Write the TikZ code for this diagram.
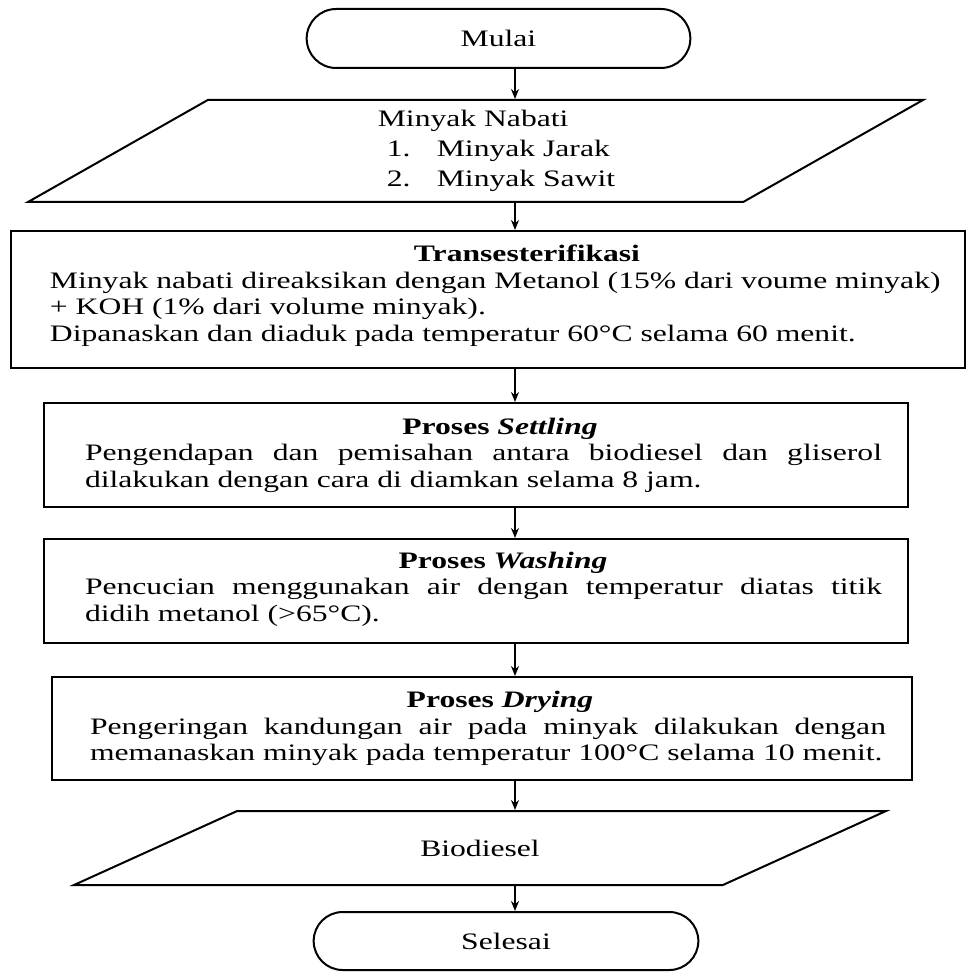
\documentclass[tikz,border=0pt]{standalone}
\usepackage{fontspec}
\setmainfont[FakeStretch=1.34]{Liberation Serif}
\usepackage{tikz}
\usetikzlibrary{arrows.meta, positioning, shapes.geometric, shapes.misc}

\begin{document}
\begin{tikzpicture}[>={Stealth[length=5pt, width=4pt]}, x=0.5pt, y=-0.5pt,
    every node/.style={font=\fontsize{11.8}{13.25}\selectfont},
    terminal/.style={draw, line width=1pt, rounded rectangle, minimum height=29.5pt},
    datain/.style={draw, line width=1pt, trapezium, trapezium stretches body=true},
    procbox/.style={draw, line width=1pt, rectangle, inner xsep=13pt},
    flow/.style={->, line width=0.75pt}]
  \useasboundingbox (0,0) rectangle (967,972);
  \coordinate (ax) at (515,0);

  % start and input
  \node[terminal, minimum width=198.5pt] (mulai) at (498.5,38.5) {Mulai};
  \node[datain, trapezium left angle=27.8, trapezium right angle=152.2,
        minimum width=447.5pt, minimum height=51pt, align=left,
        font=\fontsize{11.8}{15}\selectfont] (nabati) at (475.5,151)
    {\hspace*{21pt}Minyak Nabati\\
     \hspace*{25.5pt}\makebox[25pt][l]{1.}Minyak Jarak\\
     \hspace*{25.5pt}\makebox[25pt][l]{2.}Minyak Sawit};

  % process steps
  \node[procbox, minimum width=477pt, minimum height=68.5pt, inner xsep=6pt] (trans) at (488,299.5)
    {\hspace*{13.5pt}\parbox{451.5pt}{\raggedright
     {\centering\hspace*{25.5pt}\textbf{Transesterifikasi}\par}
     Minyak nabati direaksikan dengan Metanol (15\% dari voume minyak)\\
     + KOH (1\% dari volume minyak).\\
     Dipanaskan dan diaduk pada temperatur 60°C selama 60 menit.\rule[-6.5pt]{0pt}{0pt}}};
  \node[procbox, minimum width=432pt, minimum height=52pt] (settling) at (476,455)
    {\hspace*{7.5pt}\parbox{398.5pt}{
     {\centering\hspace*{16.5pt}\textbf{Proses \textit{Settling}}\par}
     Pengendapan dan pemisahan antara biodiesel dan gliserol\linebreak
     dilakukan dengan cara di diamkan selama 8 jam.}};
  \node[procbox, minimum width=432pt, minimum height=52pt] (washing) at (476,591)
    {\hspace*{7.5pt}\parbox{398.5pt}{
     {\centering\hspace*{19.5pt}\textbf{Proses \textit{Washing}}\par}
     Pencucian menggunakan air dengan temperatur diatas titik\linebreak
     didih metanol (>65°C).\rule[-4.2pt]{0pt}{0pt}}};
  \node[procbox, minimum width=430pt, minimum height=51.5pt] (drying) at (482,728.5)
    {\hspace*{6pt}\parbox{398pt}{
     {\centering\hspace*{12pt}\textbf{Proses \textit{Drying}}\par}
     Pengeringan kandungan air pada minyak dilakukan dengan\linebreak
     memanaskan minyak pada temperatur 100°C selama 10 menit.\rule[-2pt]{0pt}{0pt}}};

  % output and end
  \node[datain, trapezium left angle=10.4, trapezium right angle=169.6,
        minimum width=406pt, minimum height=37pt] (biodiesel) at (480,848) {Biodiesel};
  \node[terminal, minimum width=199pt, minimum height=29pt] (selesai) at (506,941) {Selesai};

  % arrows
  \draw[flow] (mulai.south -| ax) -- (nabati.north -| ax);
  \draw[flow] (nabati.south -| ax) -- (trans.north -| ax);
  \draw[flow] (trans.south -| ax) -- (settling.north -| ax);
  \draw[flow] (settling.south -| ax) -- (washing.north -| ax);
  \draw[flow] (washing.south -| ax) -- (drying.north -| ax);
  \draw[flow] (drying.south -| ax) -- (biodiesel.north -| ax);
  \draw[flow] (biodiesel.south -| ax) -- (selesai.north -| ax);
\end{tikzpicture}
\end{document}
